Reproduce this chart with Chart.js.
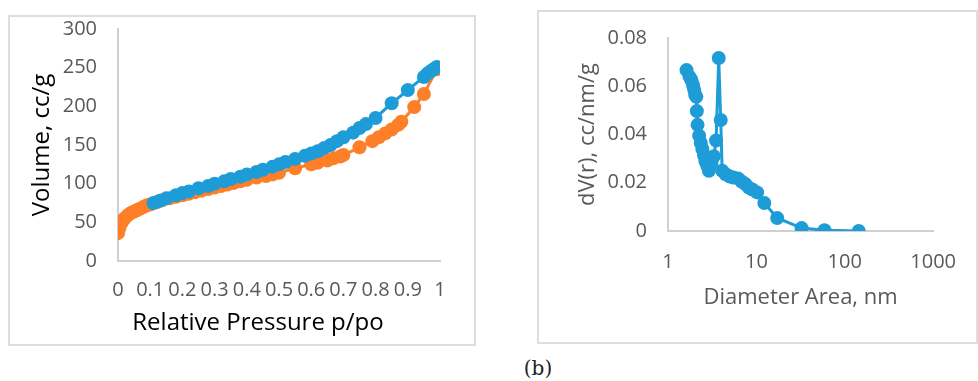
<!DOCTYPE html>
<html>
<head>
<meta charset="utf-8">
<script src="https://cdn.jsdelivr.net/npm/chart.js@4/dist/chart.umd.min.js"></script>
<style>
  body { margin: 0; background: #fff; }
  #page { position: relative; width: 978px; height: 381px; overflow: hidden; }
  .box { position: absolute; box-sizing: border-box; border: 2px solid #dedede; }
  canvas { position: absolute; }
  #caption { position: absolute; left: 488px; width: 100px; top: 356px; text-align: center;
             font-family: 'DejaVu Serif', serif; font-size: 20px; color: #222; }
</style>
</head>
<body>
<div id="page">
  <div class="box" style="left:8px;top:15px;width:468px;height:331px"></div>
  <div class="box" style="left:537px;top:10px;width:441px;height:334px"></div>
  <canvas id="iso" width="463" height="326" style="left:10px;top:17px"></canvas>
  <canvas id="psd" width="436" height="329" style="left:539px;top:12px"></canvas>
  <div id="caption">(b)</div>
</div>
<script>
// isotherm: adsorption branch
var adsP = [0, 0.002, 0.005, 0.01, 0.015, 0.02, 0.03, 0.04, 0.05, 0.06, 0.07, 0.08, 0.09, 0.1,
            0.12, 0.14, 0.16, 0.18, 0.2, 0.22, 0.24, 0.26, 0.28, 0.3, 0.32, 0.34, 0.36, 0.38, 0.4,
            0.43, 0.46, 0.48, 0.5, 0.55, 0.6, 0.62, 0.65, 0.67, 0.69, 0.7, 0.75, 0.79, 0.81, 0.83,
            0.85, 0.87, 0.88, 0.92, 0.95, 0.99];
var adsV = [36, 40, 44, 49, 52, 55, 59, 62, 64, 66, 68, 70, 72, 73,
            76, 79, 81, 83, 85, 87, 89, 91, 93, 95, 97, 99, 101, 103, 105,
            108, 110, 112, 114, 120, 125, 127, 130, 133, 135, 137, 147, 155, 160, 165,
            170, 176, 180, 199, 216, 248];
// isotherm: desorption branch
var desP = [0.11, 0.13, 0.15, 0.18, 0.2, 0.22, 0.25, 0.28, 0.3, 0.33, 0.35, 0.38, 0.4, 0.43,
            0.45, 0.48, 0.5, 0.52, 0.55, 0.58, 0.6, 0.62, 0.64, 0.66, 0.68, 0.7, 0.73, 0.75,
            0.77, 0.8, 0.85, 0.9, 0.95, 0.96, 0.97, 0.98, 0.99];
var desV = [75, 78, 81, 85, 88, 90, 94, 97, 100, 103, 106, 109, 112, 115,
            118, 122, 125, 128, 132, 136, 139, 142, 146, 150, 155, 160, 166, 172,
            177, 185, 204, 221, 238, 242, 245, 248, 251];
var isoXTicks = [0, 0.1, 0.2, 0.3, 0.4, 0.5, 0.6, 0.7, 0.8, 0.9, 1];
var isoYTicks = [0, 50, 100, 150, 200, 250, 300];

// pore size distribution
var poreD = [1.62, 1.75, 1.84, 1.92, 1.98, 2.03, 2.09, 2.12, 2.16, 2.25, 2.35, 2.45, 2.55, 2.65,
             2.78, 2.9, 3.1, 3.3, 3.5, 3.75, 3.95, 4.1, 4.5, 5.0, 5.5, 6.2, 6.8, 7.5, 8.2, 9.0,
             10.2, 12.3, 17.2, 32.5, 59, 144];
var poreV = [0.0667, 0.064, 0.0626, 0.0605, 0.0585, 0.0565, 0.0556, 0.0497, 0.044, 0.0395,
             0.0365, 0.034, 0.0315, 0.029, 0.027, 0.025, 0.028, 0.031, 0.0375, 0.0717, 0.046,
             0.025, 0.0235, 0.0226, 0.0222, 0.0218, 0.0205, 0.0195, 0.018, 0.0172, 0.016,
             0.0116, 0.0054, 0.0012, 0.0003, 0];
var psdXTicks = [1, 10, 100, 1000];
var psdYTicks = [0, 0.02, 0.04, 0.06, 0.08];

var BLUE = '#1e9cd7', ORANGE = '#fe7f27', TICK = '#595959', AXIS = '#d0d0d0';

Chart.defaults.font.family = "'Open Sans', sans-serif";
Chart.defaults.animation = false;

function pts(xs, ys) {
    return xs.map(function (x, i) { return { x: x, y: ys[i] }; });
}

function series(xs, ys, color) {
    return {
        data: pts(xs, ys),
        showLine: true,
        borderColor: color,
        backgroundColor: color,
        borderWidth: 3,
        pointRadius: 7,
        pointBorderWidth: 0
    };
}

function fixTicks(list) {
    return function (scale) {
        scale.ticks = list.map(function (v) { return { value: v }; });
    };
}

// fixed axis box size; drop the label overhang so the plot top stays put
function fixSize(w, h) {
    return function (s) {
        if (w) s.width = w;
        if (h) s.height = h;
        s.paddingTop = 0;
        s.paddingBottom = 0;
    };
}

function plain(v) { return String(v); }

// axis title drawn under the plot, shifted off its centre
var bottomTitle = {
    id: 'bottomTitle',
    afterDraw: function (chart, args, opts) {
        if (!opts.text) return;
        var ctx = chart.ctx, area = chart.chartArea;
        ctx.save();
        ctx.font = opts.font;
        ctx.fillStyle = opts.color;
        ctx.textAlign = 'center';
        ctx.textBaseline = 'middle';
        ctx.fillText(opts.text, (area.left + area.right) / 2 + opts.shift, chart.height - opts.bottom);
        ctx.restore();
    }
};

new Chart(document.getElementById('iso'), {
    type: 'scatter',
    data: {
        datasets: [series(desP, desV, BLUE), series(adsP, adsV, ORANGE)]
    },
    options: {
        responsive: false,
        layout: { padding: { top: 12, right: 33, left: 0, bottom: 0 } },
        plugins: {
            legend: { display: false },
            tooltip: { enabled: false },
            bottomTitle: {
                text: 'Relative Pressure p/po',
                font: "24px 'Open Sans'",
                color: '#000',
                shift: -21,
                bottom: 20
            }
        },
        scales: {
            x: {
                type: 'linear', min: 0, max: 1,
                afterBuildTicks: fixTicks(isoXTicks),
                afterFit: fixSize(0, 82),
                grid: { display: false, drawTicks: false },
                border: { color: AXIS, width: 2 },
                ticks: { color: TICK, font: { size: 20 }, padding: 17, autoSkip: false, maxRotation: 0,
                         callback: plain }
            },
            y: {
                min: 0, max: 300,
                afterBuildTicks: fixTicks(isoYTicks),
                afterFit: fixSize(108, 0),
                grid: { display: false, drawTicks: false },
                border: { color: AXIS, width: 2 },
                ticks: { color: TICK, font: { size: 20 }, padding: 21, callback: plain },
                title: { display: true, text: 'Volume, cc/g', color: '#000',
                         font: { size: 24 }, padding: { top: 18, bottom: 0 } }
            }
        }
    },
    plugins: [bottomTitle]
});

new Chart(document.getElementById('psd'), {
    type: 'scatter',
    data: {
        datasets: [series(poreD, poreV, BLUE)]
    },
    options: {
        responsive: false,
        layout: { padding: { top: 26, right: 35, left: 0, bottom: 0 } },
        plugins: { legend: { display: false }, tooltip: { enabled: false } },
        scales: {
            x: {
                type: 'logarithmic', min: 1, max: 1000,
                afterBuildTicks: fixTicks(psdXTicks),
                afterFit: fixSize(0, 110),
                grid: { display: false, drawTicks: false },
                border: { color: AXIS, width: 2 },
                ticks: { color: TICK, font: { size: 20 }, padding: 19, autoSkip: false, maxRotation: 0,
                         callback: plain },
                title: { display: true, text: 'Diameter Area, nm', color: TICK,
                         font: { size: 22 }, padding: { top: 0, bottom: 30 } }
            },
            y: {
                min: 0, max: 0.08,
                afterBuildTicks: fixTicks(psdYTicks),
                afterFit: fixSize(129, 0),
                grid: { display: false, drawTicks: false },
                border: { color: AXIS, width: 2 },
                ticks: { color: TICK, font: { size: 20 }, padding: 21, callback: plain },
                title: { display: true, text: 'dV(r), cc/nm/g', color: TICK,
                         font: { size: 22 }, padding: { top: 36, bottom: 0 } }
            }
        }
    }
});
</script>
</body>
</html>
